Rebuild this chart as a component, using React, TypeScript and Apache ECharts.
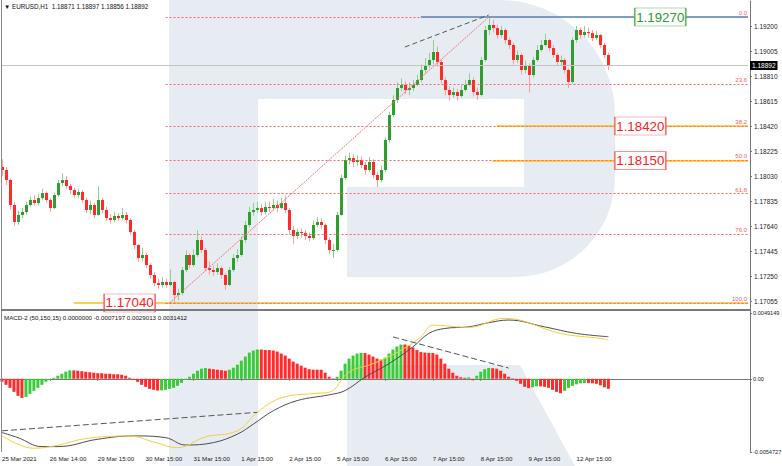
import React, { useEffect, useRef } from 'react';
import * as echarts from 'echarts';

const N_SLOTS = 188;
const LAST_SLOT = 187;
const firstOpen = 1.181;

const closes = [
  1.18077, 1.17999, 1.17804, 1.17671, 1.17726, 1.17749, 1.17804, 1.17843, 1.17819, 1.17858,
  1.17897, 1.17843, 1.1778, 1.17882, 1.17975, 1.17999, 1.17952, 1.17921, 1.17882, 1.17905,
  1.17843, 1.17765, 1.17804, 1.17726, 1.17843, 1.17765, 1.17702, 1.17687, 1.17718, 1.17702,
  1.17726, 1.17687, 1.17593, 1.17492, 1.1739, 1.17414, 1.17336, 1.17258, 1.17195, 1.1718,
  1.17203, 1.1718, 1.17203, 1.17102, 1.17117, 1.17297, 1.17414, 1.17336, 1.17414, 1.17531,
  1.17453, 1.17312, 1.17297, 1.17281, 1.17312, 1.17258, 1.1718, 1.17297, 1.1739, 1.17414,
  1.17531, 1.17648, 1.17749, 1.17765, 1.1778, 1.17749, 1.17788, 1.1778, 1.17804, 1.1778,
  1.17819, 1.17765, 1.17609, 1.17562, 1.17593, 1.17585, 1.17562, 1.17546, 1.17648, 1.17671,
  1.17648, 1.17531, 1.17453, 1.17453, 1.17726, 1.18014, 1.18155, 1.1817, 1.18139, 1.18155,
  1.18116, 1.18077, 1.18139, 1.18038, 1.17999, 1.18077, 1.18311, 1.18506, 1.18623, 1.18716,
  1.1874, 1.18701, 1.18716, 1.1874, 1.18779, 1.18857, 1.18896, 1.18935, 1.18997, 1.18919,
  1.18779, 1.18701, 1.18662, 1.18685, 1.18654, 1.18701, 1.1874, 1.18779, 1.18685, 1.18662,
  1.18935, 1.19169, 1.19208, 1.19184, 1.1913, 1.19169, 1.19091, 1.19052, 1.18935, 1.18974,
  1.18857, 1.18896, 1.18818, 1.18935, 1.19013, 1.19052, 1.19091, 1.19028, 1.18974, 1.18919,
  1.18935, 1.18857, 1.18763, 1.19091, 1.19169, 1.1913, 1.19153, 1.19145, 1.19106, 1.1913,
  1.19052, 1.18974, 1.18892,
];

const highs = [
  1.1816, 1.181, 1.1801, 1.1783, 1.1776, 1.1778, 1.1783, 1.1787, 1.1788, 1.1789,
  1.1793, 1.1791, 1.1786, 1.179, 1.18, 1.1805, 1.1803, 1.1797, 1.1794, 1.1793,
  1.1792, 1.1786, 1.1784, 1.1782, 1.1795, 1.1786, 1.1779, 1.1773, 1.1775, 1.1774,
  1.1778, 1.1775, 1.177, 1.1761, 1.175, 1.1747, 1.1743, 1.1735, 1.1728, 1.1723,
  1.1724, 1.1723, 1.173, 1.1721, 1.1715, 1.1732, 1.1745, 1.1743, 1.1746, 1.17609,
  1.1756, 1.1747, 1.1736, 1.1733, 1.1735, 1.1733, 1.1727, 1.1732, 1.1742, 1.1746,
  1.1756, 1.1768, 1.1779, 1.1782, 1.1783, 1.1781, 1.1783, 1.1783, 1.1785, 1.1784,
  1.1786, 1.1788, 1.1778, 1.1764, 1.1762, 1.1762, 1.1761, 1.1759, 1.1768, 1.1771,
  1.177, 1.1766, 1.1755, 1.175, 1.1775, 1.1804, 1.1819, 1.1821, 1.182, 1.1819,
  1.1818, 1.1814, 1.1818, 1.1816, 1.1806, 1.1811, 1.1833, 1.1853, 1.1866, 1.1876,
  1.1879, 1.1877, 1.1876, 1.1878, 1.1882, 1.189, 1.1895, 1.1899, 1.19091, 1.1904,
  1.1894, 1.188, 1.1873, 1.1872, 1.1871, 1.1874, 1.1878, 1.1883, 1.188, 1.1872,
  1.1896, 1.192, 1.1927, 1.1925, 1.1921, 1.192, 1.1918, 1.1911, 1.1907, 1.1901,
  1.1899, 1.1893, 1.1891, 1.1896, 1.1905, 1.1909, 1.1914, 1.191, 1.1905, 1.1899,
  1.1897, 1.1895, 1.1887, 1.1911, 1.192, 1.1919, 1.192, 1.1919, 1.1917, 1.1916,
  1.1914, 1.1907, 1.1899,
];

const lows = [
  1.1803, 1.1796, 1.1777, 1.1764, 1.1765, 1.177, 1.1773, 1.1779, 1.178, 1.178,
  1.1784, 1.1782, 1.1775, 1.1777, 1.1787, 1.1795, 1.1793, 1.1789, 1.1786, 1.1786,
  1.1782, 1.1774, 1.1773, 1.177, 1.1772, 1.1774, 1.1768, 1.1766, 1.1767, 1.1768,
  1.1769, 1.1766, 1.1757, 1.1746, 1.1736, 1.1737, 1.1731, 1.1723, 1.1717, 1.1715,
  1.1716, 1.1716, 1.1717, 1.1704, 1.1706, 1.171, 1.1728, 1.1731, 1.1732, 1.174,
  1.1743, 1.1729, 1.1726, 1.1725, 1.1726, 1.1723, 1.17141, 1.1717, 1.1728, 1.1736,
  1.174, 1.1751, 1.1763, 1.1772, 1.1774, 1.1772, 1.1773, 1.1775, 1.1776, 1.1775,
  1.1777, 1.1774, 1.1758, 1.175, 1.1754, 1.1755, 1.1753, 1.1752, 1.1753, 1.1763,
  1.1762, 1.175, 1.1742, 1.1739, 1.1744, 1.1772, 1.18, 1.1812, 1.181, 1.1811,
  1.1809, 1.1804, 1.1806, 1.1801, 1.17944, 1.1798, 1.1806, 1.1829, 1.1849, 1.186,
  1.1869, 1.1867, 1.1866, 1.1869, 1.1873, 1.1876, 1.1883, 1.1887, 1.189, 1.1888,
  1.1875, 1.1866, 1.1862, 1.1864, 1.1862, 1.1864, 1.1869, 1.1873, 1.1865, 1.18623,
  1.1865, 1.1892, 1.1913, 1.1915, 1.191, 1.1911, 1.1906, 1.1902, 1.189, 1.1891,
  1.1882, 1.1883, 1.1868, 1.188, 1.1892, 1.19, 1.1904, 1.19, 1.1895, 1.1889,
  1.1889, 1.1883, 1.18716, 1.1875, 1.1907, 1.191, 1.1911, 1.1911, 1.1908, 1.1909,
  1.1903, 1.1895, 1.18856,
];

const histogram = [
  -0.000226, -0.000452, -0.000678, -0.000979, -0.00128, -0.001431, -0.001355, -0.00113, -0.000904, -0.000678,
  -0.000452, -0.000226, -0.000075, 0.000075, 0.000226, 0.000377, 0.000527, 0.000625, 0.000625, 0.000602,
  0.000565, 0.000527, 0.000489, 0.000452, 0.000414, 0.000414, 0.000377, 0.000377, 0.000339, 0.000339,
  0.000301, 0.000226, 0.000075, -0.000075, -0.000226, -0.000452, -0.000602, -0.000753, -0.000828, -0.000881,
  -0.000866, -0.000828, -0.000753, -0.000678, -0.000527, -0.000301, -0.000075, 0.000151, 0.000377, 0.000602,
  0.000753, 0.000806, 0.000753, 0.000715, 0.000678, 0.00064, 0.000602, 0.000678, 0.000828, 0.001054,
  0.001355, 0.001657, 0.001958, 0.002108, 0.002184, 0.002184, 0.002146, 0.002146, 0.002108, 0.002033,
  0.001883, 0.001732, 0.001506, 0.00128, 0.00113, 0.000979, 0.000828, 0.000715, 0.000678, 0.000678,
  0.000678, 0.000452, 0.000151, 0.000038, 0.000151, 0.000602, 0.00113, 0.001506, 0.001732, 0.001883,
  0.001935, 0.00192, 0.001807, 0.001657, 0.001506, 0.001431, 0.001581, 0.001883, 0.002184, 0.00241,
  0.00256, 0.00256, 0.002485, 0.002334, 0.002146, 0.001995, 0.001958, 0.001935, 0.00192, 0.001807,
  0.001506, 0.00113, 0.000753, 0.000452, 0.000226, 0.000113, 0.000075, 0.000113, -0.000113, 0.000226,
  0.000527, 0.000715, 0.000806, 0.000791, 0.000753, 0.000602, 0.000377, 0.000151, 0.000038, -0.000151,
  -0.000377, -0.000602, -0.0007, -0.00064, -0.000565, -0.000565, -0.000602, -0.000678, -0.000828, -0.000979,
  -0.001077, -0.000904, -0.000678, -0.000527, -0.000414, -0.000339, -0.000324, -0.000324, -0.000339, -0.000377,
  -0.000489, -0.00064, -0.000753,
];

const macdIdx = [0, 4, 8, 14, 21, 32, 38, 44, 51, 59, 64, 70, 79, 82, 87, 93, 100, 105, 108, 117, 126, 140, 150, 152];
const macdVal = [-0.00427, -0.00489, -0.00519, -0.00497, -0.00447, -0.00427, -0.00472, -0.00515, -0.00434, -0.00389, -0.00251, -0.00143, -0.00108, -0.00101, 0.0005, 0.00113, 0.00213, 0.00313, 0.00401, 0.00384, 0.00452, 0.00339, 0.00301, 0.0029013];
const signalIdx = [0, 4, 10, 14, 24, 33, 41, 46, 53, 59, 63, 68, 74, 82, 86, 91, 97, 103, 107, 111, 117, 122, 127, 136, 144, 152];
const signalVal = [-0.00402, -0.0044, -0.00507, -0.00507, -0.00452, -0.00427, -0.0044, -0.00495, -0.00477, -0.00414, -0.00339, -0.00239, -0.00163, -0.0012, -0.00088, 0.00012, 0.00113, 0.00238, 0.00339, 0.00376, 0.00388, 0.00419, 0.00439, 0.00388, 0.00339, 0.0031412];

const timeLabels = ['25 Mar 2021', '26 Mar 14:00', '29 Mar 15:00', '30 Mar 15:00', '31 Mar 15:00', '1 Apr 15:00', '2 Apr 15:00', '5 Apr 15:00', '6 Apr 15:00', '7 Apr 15:00', '8 Apr 15:00', '9 Apr 15:00', '12 Apr 15:00'];
const timeLabelIdx = [0, 12, 24, 36, 48, 60, 72, 84, 96, 108, 120, 132, 144];

const fibLabels = ['0.0', '23.6', '38.2', '50.0', '61.8', '76.0', '100.0'];
const fibPrices = [1.1927, 1.18744, 1.18418, 1.18155, 1.17892, 1.17575, 1.1704];
const fibStartIdx = 41;

const levelPrices = [1.1704, 1.1815, 1.1842];
const levelStartIdx = [18, 123, 124];
const highLevelPrice = 1.1927;
const highLevelStartIdx = 105;

const tagTexts = ['1.17040', '1.18150', '1.18420', '1.19270'];
const tagPrices = [1.1704, 1.1815, 1.1842, 1.1927];
const tagIdx = [32, 160, 160, 165];

const currentPrice = 1.18892;
const fibBase = { fromIdx: 42, fromPrice: 1.1704, toIdx: 122, toPrice: 1.1927 };
const priceTrend = { fromIdx: 101, fromPrice: 1.19036, toIdx: 122, toPrice: 1.19286 };
const macdTrend1 = { fromIdx: 0, fromVal: -0.00389, toIdx: 64, toVal: -0.00251 };
const macdTrend2 = { fromIdx: 98, fromVal: 0.00313, toIdx: 127, toVal: 0.0008 };

const titleText = '\u25BC EURUSD,H1  1.18871 1.18897 1.18856 1.18892';
const macdTitle = 'MACD-2 (50,150,15) 0.0000000 -0.0007197 0.0029013 0.0031412';

const FONT = 'Liberation Sans, Arial, sans-serif';

export default function App() {
  const ref = useRef<HTMLDivElement>(null);

  useEffect(() => {
    if (!ref.current) return;
    const chart = echarts.init(ref.current, null, { renderer: 'svg' });

    const cats = Array.from({ length: N_SLOTS }, (_, i) => String(i));
    const labelMap: Record<number, string> = {};
    timeLabelIdx.forEach((k, j) => (labelMap[k] = timeLabels[j]));

    const candleData = closes.map((c, i) => [
      i,
      i === 0 ? firstOpen : closes[i - 1],
      c,
      lows[i],
      highs[i],
    ]);

    const histData = histogram.map((v, i) => ({
      value: v,
      itemStyle: { color: i > 0 && v > histogram[i - 1] ? '#3acb3a' : '#ff2b2b' },
    }));

    const macdData: (number | null)[] = new Array(closes.length).fill(null);
    macdIdx.forEach((k, j) => (macdData[k] = macdVal[j]));
    const signalData: (number | null)[] = new Array(closes.length).fill(null);
    signalIdx.forEach((k, j) => (signalData[k] = signalVal[j]));

    const nulls = new Array(closes.length).fill(null);

    const wm = '#e7ecf3';

    const option: any = {
      animation: false,
      backgroundColor: '#ffffff',
      grid: [
        { left: 0, right: 32, top: 1, height: 325, containLabel: false, outerBoundsMode: 'none' },
        { left: 0, right: 32, top: 313, height: 139, containLabel: false, outerBoundsMode: 'none' },
      ],
      xAxis: [
        { type: 'category', gridIndex: 0, data: cats, boundaryGap: true, show: false },
        {
          type: 'category',
          gridIndex: 1,
          data: cats,
          boundaryGap: true,
          axisLine: { show: true, lineStyle: { color: '#777', width: 1 } },
          axisTick: {
            show: true,
            length: 2,
            alignWithLabel: true,
            interval: (idx: number) => labelMap[idx] !== undefined,
            lineStyle: { color: '#777' },
          },
          axisLabel: {
            interval: (idx: number) => labelMap[idx] !== undefined,
            formatter: (_v: string, idx: number) => labelMap[idx] ?? '',
            align: 'left',
            margin: 3,
            fontSize: 6.2,
            color: '#222',
            fontFamily: FONT,
          },
          splitLine: { show: false },
        },
      ],
      yAxis: [
        {
          type: 'value',
          gridIndex: 0,
          position: 'right',
          min: 1.1686,
          max: 1.19395,
          interval: 0.00195,
          axisLine: { show: true, lineStyle: { color: '#777' } },
          axisTick: { show: true, length: 2, lineStyle: { color: '#777' } },
          axisLabel: {
            showMinLabel: false,
            showMaxLabel: false,
            margin: 4,
            fontSize: 6.5,
            color: '#222',
            fontFamily: FONT,
            formatter: (v: number) => v.toFixed(5),
          },
          splitLine: { show: false },
        },
        {
          type: 'value',
          gridIndex: 1,
          position: 'right',
          min: -0.0054727,
          max: 0.0049149,
          interval: 0.0054727,
          axisLine: { show: true, lineStyle: { color: '#777' } },
          axisTick: { show: true, length: 2, lineStyle: { color: '#777' } },
          axisLabel: {
            margin: 3,
            fontSize: 5.6,
            color: '#222',
            fontFamily: FONT,
            formatter: (v: number) => (Math.abs(v) < 1e-9 ? '0.00' : v.toFixed(7)),
          },
          splitLine: { show: false },
        },
      ],
      graphic: [
        { type: 'rect', z: -10, silent: true, shape: { x: 169, y: 0, width: 89, height: 466 }, style: { fill: wm } },
        { type: 'rect', z: -10, silent: true, shape: { x: 200, y: 0, width: 415, height: 277, r: [0, 115, 100, 0] }, style: { fill: wm } },
        { type: 'rect', z: -9, silent: true, shape: { x: 258, y: 99, width: 266, height: 88 }, style: { fill: '#ffffff' } },
        { type: 'rect', z: -9, silent: true, shape: { x: 258, y: 187, width: 89, height: 90 }, style: { fill: '#ffffff' } },
        { type: 'polygon', z: -10, silent: true, shape: { points: [[347, 365], [520, 365], [575, 466], [347, 466]] }, style: { fill: wm } },
        { type: 'line', z: 20, silent: true, shape: { x1: 1.5, y1: 0, x2: 1.5, y2: 452 }, style: { stroke: '#8a8a8a', lineWidth: 1 } },
        { type: 'rect', z: 20, silent: true, shape: { x: 1, y: 309, width: 750, height: 2 }, style: { fill: '#7a7a7a' } },
        { type: 'text', z: 20, silent: true, left: 4, top: 3, style: { text: titleText, fontSize: 6.3, fill: '#111', fontFamily: FONT } },
        { type: 'text', z: 20, silent: true, left: 4, top: 314, style: { text: macdTitle, fontSize: 6.2, fill: '#111', fontFamily: FONT } },
      ],
      series: [
        {
          type: 'custom',
          name: 'EURUSD',
          xAxisIndex: 0,
          yAxisIndex: 0,
          z: 3,
          clip: false,
          encode: { x: 0, y: [1, 2, 3, 4] },
          data: candleData,
          renderItem: (_params: any, api: any) => {
            const i = api.value(0);
            const o = api.value(1);
            const c = api.value(2);
            const l = api.value(3);
            const h = api.value(4);
            const po = api.coord([i, o]);
            const pc = api.coord([i, c]);
            const pl = api.coord([i, l]);
            const ph = api.coord([i, h]);
            const x = Math.round(po[0]) + 0.5;
            const bull = c >= o;
            const top = Math.min(po[1], pc[1]);
            const bh = Math.max(1, Math.abs(po[1] - pc[1]));
            return {
              type: 'group',
              children: [
                { type: 'line', shape: { x1: x, y1: ph[1], x2: x, y2: pl[1] }, style: { stroke: bull ? '#8fcf8f' : '#ff9d9d', lineWidth: 1 } },
                { type: 'rect', shape: { x: x - 1.5, y: top, width: 3, height: bh }, style: { fill: bull ? '#2f9d2f' : '#ff2a2a' } },
              ],
            };
          },
        },
        {
          type: 'line',
          name: 'levels',
          xAxisIndex: 0,
          yAxisIndex: 0,
          data: nulls,
          showSymbol: false,
          markLine: {
            silent: true,
            symbol: ['none', 'none'],
            label: { show: false },
            data: [
              ...levelPrices.map((p, k) => [
                { coord: [levelStartIdx[k], p], lineStyle: { color: '#ffc107', width: 1.5, type: 'solid' } },
                { coord: [LAST_SLOT, p] },
              ]),
              [
                { coord: [highLevelStartIdx, highLevelPrice], lineStyle: { color: '#2494d2', width: 1.5, type: 'solid' } },
                { coord: [LAST_SLOT, highLevelPrice] },
              ],
            ],
          },
        },
        {
          type: 'line',
          name: 'fibo',
          xAxisIndex: 0,
          yAxisIndex: 0,
          data: nulls,
          showSymbol: false,
          markLine: {
            silent: true,
            symbol: ['none', 'none'],
            label: { show: false },
            data: [
              ...fibPrices.map((p, k) => [
                {
                  coord: [fibStartIdx, p],
                  lineStyle: { color: '#ff6464', width: 1, type: [2, 2] },
                  label: {
                    show: true,
                    position: 'insideEndTop',
                    formatter: fibLabels[k],
                    color: '#ff5a5a',
                    fontSize: 6,
                    fontFamily: FONT,
                    distance: 1,
                  },
                },
                { coord: [LAST_SLOT, p] },
              ]),
              [
                { coord: [fibBase.fromIdx, fibBase.fromPrice], lineStyle: { color: '#ff7070', width: 1, type: [2, 1] } },
                { coord: [fibBase.toIdx, fibBase.toPrice] },
              ],
            ],
          },
        },
        {
          type: 'line',
          name: 'objects',
          xAxisIndex: 0,
          yAxisIndex: 0,
          data: nulls,
          showSymbol: false,
          markLine: {
            silent: true,
            symbol: ['none', 'none'],
            label: { show: false },
            data: [
              [
                {
                  coord: [0, currentPrice],
                  lineStyle: { color: '#c4c4c4', width: 1, type: 'solid' },
                  label: {
                    show: true,
                    position: 'end',
                    formatter: currentPrice.toFixed(5),
                    backgroundColor: '#000',
                    color: '#fff',
                    fontSize: 6.5,
                    fontFamily: FONT,
                    padding: [1, 2, 1, 2],
                    distance: 2,
                  },
                },
                { coord: [LAST_SLOT, currentPrice] },
              ],
              [
                { coord: [priceTrend.fromIdx, priceTrend.fromPrice], lineStyle: { color: '#555', width: 1, type: [5, 3] } },
                { coord: [priceTrend.toIdx, priceTrend.toPrice] },
              ],
            ],
          },
          markPoint: {
            silent: true,
            symbol: 'rect',
            symbolSize: [51, 18],
            data: tagTexts.map((t, k) => {
              const green = k === 3;
              return {
                name: t,
                coord: [tagIdx[k], tagPrices[k]],
                itemStyle: { color: '#ffffff', borderColor: green ? '#5cb85c' : '#ff6e6e', borderWidth: 1 },
                label: {
                  show: true,
                  position: 'inside',
                  formatter: t,
                  color: green ? '#2a9a2a' : '#ff2020',
                  fontSize: 13.3,
                  fontFamily: FONT,
                },
              };
            }),
          },
        },
        {
          type: 'bar',
          name: 'hist',
          xAxisIndex: 1,
          yAxisIndex: 1,
          barWidth: 3,
          data: histData,
          z: 2,
        },
        {
          type: 'line',
          name: 'signal',
          xAxisIndex: 1,
          yAxisIndex: 1,
          data: signalData,
          connectNulls: true,
          smooth: 0.4,
          showSymbol: false,
          lineStyle: { color: '#4d4d4d', width: 1 },
          z: 4,
          markLine: {
            silent: true,
            symbol: ['none', 'none'],
            label: { show: false },
            lineStyle: { color: '#555', width: 1, type: [6, 3] },
            data: [
              [{ coord: [macdTrend1.fromIdx, macdTrend1.fromVal] }, { coord: [macdTrend1.toIdx, macdTrend1.toVal] }],
              [{ coord: [macdTrend2.fromIdx, macdTrend2.fromVal] }, { coord: [macdTrend2.toIdx, macdTrend2.toVal] }],
            ],
          },
        },
        {
          type: 'line',
          name: 'macd',
          xAxisIndex: 1,
          yAxisIndex: 1,
          data: macdData,
          connectNulls: true,
          smooth: 0.4,
          showSymbol: false,
          lineStyle: { color: '#f3d03a', width: 1 },
          z: 4,
        },
      ],
    };

    chart.setOption(option);
    return () => {
      chart.dispose();
    };
  }, []);

  return (
    <div
      ref={ref}
      style={{ position: 'fixed', left: 0, top: 0, width: 782, height: 466, background: '#ffffff' }}
    />
  );
}
